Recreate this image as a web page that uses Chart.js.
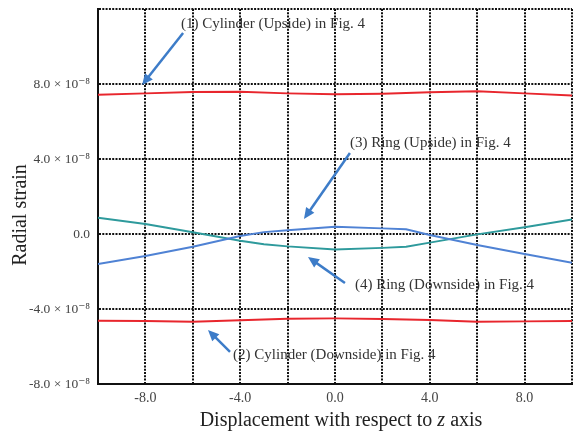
<!DOCTYPE html>
<html>
<head>
<meta charset="utf-8">
<script src="https://cdn.jsdelivr.net/npm/chart.js@4/dist/chart.umd.min.js"></script>
<style>
  body { margin: 0; background: #fff; }
  #wrap { width: 573px; height: 435px; }
</style>
</head>
<body>
<div id="wrap"><canvas id="myChart" width="573" height="435"></canvas></div>
<script>
'use strict';

// strain values are in units of 1e-8
const cylX = [-10, -8, -6, -4, -2, 0, 2, 4, 6, 8, 10];
const cylUp = [7.43, 7.5, 7.57, 7.59, 7.5, 7.45, 7.48, 7.56, 7.61, 7.5, 7.38];
const cylDown = [-4.62, -4.64, -4.68, -4.6, -4.52, -4.5, -4.53, -4.59, -4.68, -4.66, -4.64];

const ringX = [-10, -8, -6, -4, -3, -2, 0, 2, 3, 4, 6, 8, 10];
const ringUp = [-1.6, -1.17, -0.68, -0.11, 0.1, 0.2, 0.39, 0.3, 0.25, -0.05, -0.59, -1.07, -1.53];
const ringDown = [0.87, 0.53, 0.09, -0.36, -0.55, -0.66, -0.82, -0.74, -0.68, -0.46, -0.02, 0.36, 0.78];

const xTickLabels = [-8, -4, 0, 4, 8];
const yTickLabels = [-8, -4, 0, 4, 8];

// callouts: text anchor and arrow from/to, in data units
const notes = [
    { text: '(1) Cylinder (Upside) in Fig. 4', at: [-6.5, 11.2], from: [-6.41, 10.72], to: [-8.14, 7.95] },
    { text: '(3) Ring (Upside) in Fig. 4', at: [0.63, 4.85], from: [0.63, 4.32], to: [-1.31, 0.8] },
    { text: '(4) Ring (Downside) in Fig. 4', at: [0.84, -2.72], from: [0.42, -2.61], to: [-1.14, -1.23] },
    { text: '(2) Cylinder (Downside) in Fig. 4', at: [-4.3, -6.45], from: [-4.43, -6.29], to: [-5.36, -5.12] },
];

function pairs(xs, ys) {
    return xs.map(function(x, i){ return { x: x, y: ys[i] }; });
}

const serif = "'Liberation Serif', 'DejaVu Serif', serif";

const notePlugin = {
    id: 'notes',
    afterDatasetsDraw(chart) {
        const ctx = chart.ctx;
        const sx = chart.scales.x, sy = chart.scales.y;
        ctx.save();
        notes.forEach(function(n){
            const x1 = sx.getPixelForValue(n.from[0]), y1 = sy.getPixelForValue(n.from[1]);
            const x2 = sx.getPixelForValue(n.to[0]), y2 = sy.getPixelForValue(n.to[1]);
            const a = Math.atan2(y2 - y1, x2 - x1);
            const hl = 11, hw = 5;
            ctx.strokeStyle = '#3d7cc8';
            ctx.fillStyle = '#3d7cc8';
            ctx.lineWidth = 2.5;
            ctx.beginPath();
            ctx.moveTo(x1, y1);
            ctx.lineTo(x2 - Math.cos(a) * hl * 0.8, y2 - Math.sin(a) * hl * 0.8);
            ctx.stroke();
            ctx.beginPath();
            ctx.moveTo(x2, y2);
            ctx.lineTo(x2 - Math.cos(a) * hl - Math.sin(a) * hw, y2 - Math.sin(a) * hl + Math.cos(a) * hw);
            ctx.lineTo(x2 - Math.cos(a) * hl + Math.sin(a) * hw, y2 - Math.sin(a) * hl - Math.cos(a) * hw);
            ctx.closePath();
            ctx.fill();

            ctx.fillStyle = '#333';
            ctx.font = '15px ' + serif;
            ctx.textAlign = 'left';
            ctx.textBaseline = 'middle';
            ctx.fillText(n.text, sx.getPixelForValue(n.at[0]), sy.getPixelForValue(n.at[1]));
        });

        // x axis title with italic z
        const parts = [
            ['Displacement with respect to ', '20px ' + serif],
            ['z', 'italic 20px ' + serif],
            [' axis', '20px ' + serif],
        ];
        let total = 0;
        parts.forEach(function(p){ ctx.font = p[1]; total += ctx.measureText(p[0]).width; });
        let px = 341 - total / 2;
        ctx.fillStyle = '#222';
        ctx.textBaseline = 'middle';
        parts.forEach(function(p){
            ctx.font = p[1];
            ctx.fillText(p[0], px, 421);
            px += ctx.measureText(p[0]).width;
        });

        // y axis title
        ctx.translate(21, 215);
        ctx.rotate(-Math.PI / 2);
        ctx.font = '20px ' + serif;
        ctx.textAlign = 'center';
        ctx.fillText('Radial strain', 0, 0);
        ctx.restore();
    }
};

const lineDs = function(label, data, color) {
    return {
        label: label,
        data: data,
        borderColor: color,
        borderWidth: 2,
        pointRadius: 0,
        tension: 0,
        fill: false,
    };
};

const gridOpts = { color: '#111', lineWidth: 2, drawTicks: false };
const borderOpts = { color: '#111', width: 2, dash: [2, 1.3] };

const chart = document.getElementById('myChart');
const myChart = new Chart(chart, {
    type: 'line',
    data: {
        datasets: [
            lineDs('(1) Cylinder (Upside)', pairs(cylX, cylUp), '#e8262d'),
            lineDs('(2) Cylinder (Downside)', pairs(cylX, cylDown), '#e8262d'),
            lineDs('(3) Ring (Upside)', pairs(ringX, ringUp), '#4f82d4'),
            lineDs('(4) Ring (Downside)', pairs(ringX, ringDown), '#2e9a9c'),
        ],
    },
    options: {
        responsive: false,
        animation: false,
        layout: { padding: { top: 9, right: 1, bottom: 0, left: 0 } },
        plugins: {
            legend: { display: false },
            tooltip: { enabled: false },
        },
        scales: {
            x: {
                type: 'linear',
                min: -10,
                max: 10,
                afterFit: function(s){
                    s.height = 51;
                    s.paddingLeft = 0;
                    s.paddingRight = 0;
                },
                ticks: {
                    stepSize: 2,
                    autoSkip: false,
                    maxRotation: 0,
                    padding: 6,
                    color: '#444',
                    font: { family: serif, size: 14 },
                    callback: function(v){ return xTickLabels.includes(v) ? v.toFixed(1) : ''; },
                },
                grid: gridOpts,
                border: borderOpts,
            },
            y: {
                min: -8,
                max: 12,
                afterFit: function(s){
                    s.width = 98;
                    s.paddingTop = 0;
                    s.paddingBottom = 0;
                },
                ticks: {
                    stepSize: 4,
                    padding: 8,
                    color: '#444',
                    font: { family: serif, size: 13.5 },
                    callback: function(v){
                        if (!yTickLabels.includes(v)) return '';
                        if (v === 0) return '0.0';
                        return v.toFixed(1) + ' \u00d7 10\u207b\u2078';
                    },
                },
                grid: gridOpts,
                border: borderOpts,
            },
        },
    },
    plugins: [notePlugin],
});
</script>
</body>
</html>
